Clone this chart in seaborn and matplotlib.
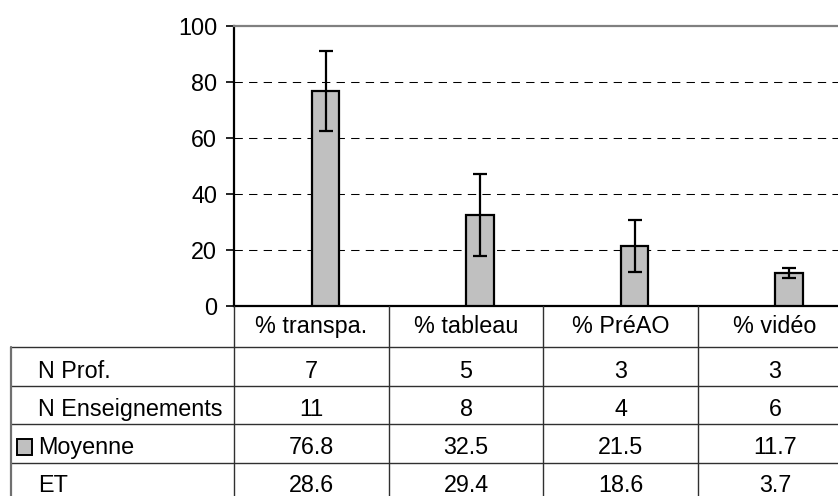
import matplotlib
matplotlib.use('Agg')
import matplotlib.pyplot as plt
from matplotlib.patches import Rectangle
import seaborn as sns
import numpy as np
import pandas as pd

# ---- data ----
categories = ['% transpa.', '% tableau', '% PréAO', '% vidéo']
n_prof = [7, 5, 3, 3]
n_enseignements = [11, 8, 4, 6]
moyenne = [76.8, 32.5, 21.5, 11.7]
et = [28.6, 29.4, 18.6, 3.7]
row_labels = ['N Prof.', 'N Enseignements', 'Moyenne', 'ET']
yticks = [0, 20, 40, 60, 80, 100]

W, H = 838, 496
sns.set_theme(style='white')
plt.rcParams['font.family'] = ['Liberation Sans', 'DejaVu Sans']
FS = 16.8

fig = plt.figure(figsize=(W / 100, H / 100), dpi=100)
ax_l, ax_r, ax_t, ax_b = 234, 838, 26, 306
ax = fig.add_axes([ax_l / W, 1 - ax_b / H, (ax_r - ax_l) / W, (ax_b - ax_t) / H])

df = pd.DataFrame({'cat': categories, 'moy': moyenne})
sns.barplot(data=df, x='cat', y='moy', ax=ax, color='#C0C0C0', width=0.18,
            edgecolor='black', linewidth=1.6, saturation=1, errorbar=None, zorder=3)
ax.errorbar(np.arange(len(categories)), moyenne, yerr=np.array(et) / 2, fmt='none',
            ecolor='black', elinewidth=1.6, capsize=5, capthick=1.6, zorder=4)

# bar spacing 154.5 px, first bar centre at 325.5 px
sp = 154.5
ax.set_xlim(-(325.5 - ax_l) / sp, (ax_r - 325.5) / sp)
ax.set_ylim(0, 100)
ax.set_yticks(yticks)
ax.set_yticklabels([str(v) for v in yticks], fontsize=FS, color='black')
ax.set_xticks([])
ax.set_xlabel('')
ax.set_ylabel('')
ax.tick_params(axis='y', which='major', left=True, length=6, width=1.2, pad=6, color='black')
for v in yticks[1:-1]:
    ax.axhline(v, color='black', lw=0.75, ls=(0, (8, 6)), zorder=1)
ax.spines['left'].set_color('black')
ax.spines['left'].set_linewidth(1.6)
ax.spines['bottom'].set_color('black')
ax.spines['bottom'].set_linewidth(1.6)
ax.spines['top'].set_color('#808080')
ax.spines['top'].set_linewidth(1.6)
ax.spines['right'].set_visible(False)
ax.set_facecolor('white')

# ---- data table ----
tab = fig.add_axes([0, 0, 1, 1], zorder=5)
tab.set_xlim(0, W)
tab.set_ylim(H, 0)
tab.axis('off')
tab.patch.set_alpha(0)

col_edges = [234, 389, 543, 698, 852]
row_edges = [306, 347, 386, 424, 463, 497]
baselines = [333, 378, 416, 454, 492]
left_edge = 11
lc = '#303030'
for y in row_edges[1:]:
    tab.plot([left_edge, W], [y, y], color=lc, lw=1.0, solid_capstyle='butt')
for x in col_edges:
    tab.plot([x, x], [row_edges[0], row_edges[-1]], color=lc, lw=1.0)
tab.plot([left_edge, left_edge], [row_edges[1], row_edges[-1]], color='#707070', lw=1.6)

centers = [(col_edges[i] + col_edges[i + 1]) / 2 for i in range(4)]
for cx, name in zip(centers, categories):
    tab.text(cx, baselines[0], name, ha='center', va='baseline', fontsize=FS, color='black')

rows = [n_prof, n_enseignements, [f'{v:.1f}' for v in moyenne], [f'{v:.1f}' for v in et]]
for r, (lab, vals) in enumerate(zip(row_labels, rows)):
    by = baselines[r + 1]
    tab.text(38, by, lab, ha='left', va='baseline', fontsize=FS, color='black')
    for cx, v in zip(centers, vals):
        tab.text(cx, by, str(v), ha='center', va='baseline', fontsize=FS, color='black')
    if lab == 'Moyenne':
        tab.add_patch(Rectangle((16.5, 438.5), 15, 16, facecolor='#C0C0C0',
                                edgecolor='black', lw=1.4))

fig.savefig('out.png', dpi=100, facecolor='white')
